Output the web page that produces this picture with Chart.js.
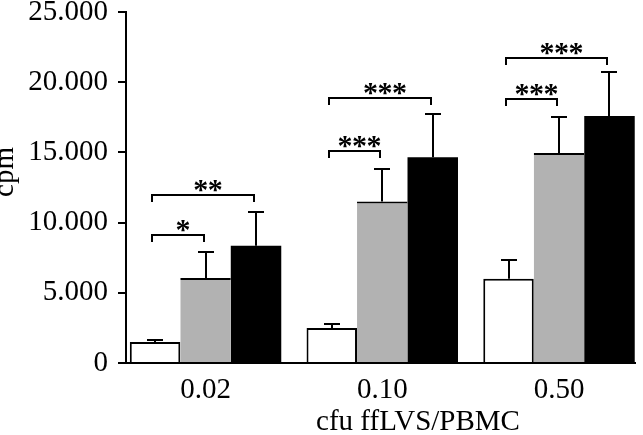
<!DOCTYPE html>
<html><head><meta charset="utf-8">
<script src="https://cdn.jsdelivr.net/npm/chart.js@4/dist/chart.umd.min.js"></script>
<style>html,body{margin:0;padding:0;background:#fff;}#wrap{width:643px;height:435px;}</style>
</head><body><div id="wrap"><canvas id="c" width="643" height="435"></canvas></div>
<script>
const categories = ['0.02', '0.10', '0.50'];
const seriesNames = ['Series 1', 'Series 2', 'Series 3'];
const whiteValues = [1500, 2500, 6000];
const whiteErrors = [150, 300, 1330];
const grayValues = [6050, 11500, 14950];
const grayErrors = [1850, 2350, 2570];
const blackValues = [8350, 14650, 17600];
const blackErrors = [2400, 3120, 3110];
const yTickValues = [0, 5000, 10000, 15000, 20000, 25000];
const yTickLabels = ['0', '5.000', '10.000', '15.000', '20.000', '25.000'];
const xTitle = 'cfu ffLVS/PBMC';
const yTitle = 'cpm';
// significance brackets: group, from series, to series, level (cpm), label
const bracketGroup = [0, 0, 1, 1, 2, 2];
const bracketFrom = [0, 0, 0, 0, 0, 0];
const bracketTo = [1, 2, 1, 2, 1, 2];
const bracketLevel = [9140, 11990, 15120, 18880, 18830, 21720];
const bracketLabel = ['*', '**', '***', '***', '***', '***'];

const valuesList = [whiteValues, grayValues, blackValues];
const errorsList = [whiteErrors, grayErrors, blackErrors];
const colors = ['#ffffff', '#b2b2b2', '#000000'];
const borders = [
  { top: 2, left: 2, right: 2, bottom: 0 },
  { top: 2, left: 0, right: 0, bottom: 0 },
  0
];
const FONT = "'Liberation Serif', 'Times New Roman', serif";

const annot = {
  id: 'annot',
  afterDatasetsDraw(chart) {
    const ctx = chart.ctx, ys = chart.scales.y;
    ctx.save();
    ctx.strokeStyle = '#000';
    ctx.lineWidth = 2;
    ctx.lineCap = 'butt';
    errorsList.forEach((errs, di) => {
      const meta = chart.getDatasetMeta(di);
      meta.data.forEach((bar, j) => {
        const yTop = Math.round(ys.getPixelForValue(valuesList[di][j] + errs[j]));
        const x = Math.round(bar.x);
        ctx.beginPath();
        ctx.moveTo(x, bar.y);
        ctx.lineTo(x, yTop);
        ctx.moveTo(x - 8, yTop);
        ctx.lineTo(x + 8, yTop);
        ctx.stroke();
      });
    });
    ctx.fillStyle = '#000';
    ctx.font = 'bold 30px ' + FONT;
    ctx.textAlign = 'center';
    ctx.textBaseline = 'alphabetic';
    bracketGroup.forEach((g, k) => {
      const x1 = Math.round(chart.getDatasetMeta(bracketFrom[k]).data[g].x) - 3;
      const x2 = Math.round(chart.getDatasetMeta(bracketTo[k]).data[g].x) - 2;
      const y = Math.round(ys.getPixelForValue(bracketLevel[k]));
      ctx.beginPath();
      ctx.moveTo(x1, y + 7);
      ctx.lineTo(x1, y);
      ctx.lineTo(x2, y);
      ctx.lineTo(x2, y + 7);
      ctx.stroke();
      const label = bracketLabel[k];
      const n = label.length;
      const cx = (x1 + x2) / 2 + 5;
      for (let i = 0; i < n; i++) {
        ctx.fillText(label[i], cx + (i - (n - 1) / 2) * 14.5, y + 4);
      }
    });
    ctx.restore();
  },
  afterDraw(chart) {
    const ctx = chart.ctx;
    ctx.save();
    ctx.fillStyle = '#000';
    ctx.font = '29px ' + FONT;
    ctx.textAlign = 'center';
    ctx.textBaseline = 'alphabetic';
    ctx.fillText(xTitle, 418, 430);
    ctx.translate(13, 172);
    ctx.rotate(-Math.PI / 2);
    ctx.fillText(yTitle, 0, 0);
    ctx.restore();
  }
};

new Chart(document.getElementById('c'), {
  type: 'bar',
  data: {
    datasets: valuesList.map((vals, di) => ({
      label: seriesNames[di],
      data: vals.map((v, i) => ({ x: i, y: v })),
      backgroundColor: colors[di],
      borderColor: '#000',
      borderWidth: borders[di],
      borderSkipped: false,
      categoryPercentage: 0.857,
      barPercentage: 1.0
    }))
  },
  options: {
    responsive: false,
    animation: false,
    devicePixelRatio: 1,
    layout: { padding: { top: 12, right: 8, bottom: 0, left: 0 } },
    plugins: { legend: { display: false }, tooltip: { enabled: false } },
    scales: {
      x: {
        type: 'linear',
        offset: false,
        min: -0.45,
        max: 2.43,
        afterBuildTicks(scale) { scale.ticks = categories.map((c, i) => ({ value: i })); },
        afterFit(scale) { scale.height = 72; scale.paddingLeft = 0; scale.paddingRight = 0; },
        grid: { display: false, drawTicks: false, offset: false },
        border: { display: true, color: '#000', width: 2 },
        ticks: {
          autoSkip: false,
          maxRotation: 0,
          padding: 10,
          color: '#000',
          font: { family: FONT, size: 29 },
          callback: (v) => categories[v]
        }
      },
      y: {
        min: 0,
        max: 25000,
        afterBuildTicks(scale) { scale.ticks = yTickValues.map(v => ({ value: v })); },
        afterFit(scale) { scale.width = 126; scale.paddingTop = 0; scale.paddingBottom = 0; },
        grid: { display: true, drawOnChartArea: false, drawTicks: true, tickLength: 8, color: '#000', lineWidth: 2 },
        border: { display: true, color: '#000', width: 2 },
        ticks: {
          padding: 10,
          color: '#000',
          font: { family: FONT, size: 29 },
          callback: (v) => yTickLabels[yTickValues.indexOf(v)]
        }
      }
    }
  },
  plugins: [annot]
});
</script>
</body></html>
